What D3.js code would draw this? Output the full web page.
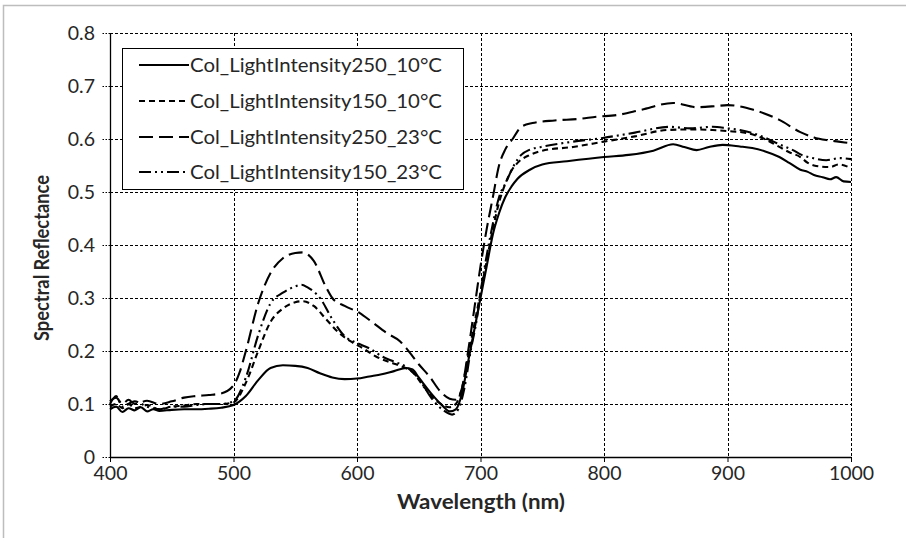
<!DOCTYPE html>
<html>
<head>
<meta charset="utf-8">
<script src="https://cdn.jsdelivr.net/npm/d3@7/dist/d3.min.js"></script>
<style>
  body { margin: 0; background: #fff; }
  svg { display: block; font-family: Lato, "Open Sans", sans-serif; }
</style>
</head>
<body>
<svg id="chart" width="906" height="538"></svg>
<script>
// series names and dash styles (legend order)
var seriesNames = ['Col_LightIntensity250_10°C', 'Col_LightIntensity150_10°C', 'Col_LightIntensity250_23°C', 'Col_LightIntensity150_23°C'];
var dashes = [null, '6,4', '14,6', '12,4,2,4,2,4'];

var xTicks = [400, 500, 600, 700, 800, 900, 1000];
var yTicks = [0, 0.1, 0.2, 0.3, 0.4, 0.5, 0.6, 0.7, 0.8];

// [wavelength nm, reflectance]
var li250_10 = [[400,0.09],[405,0.095],[410,0.085],[415,0.092],[420,0.088],[425,0.094],[430,0.086],[435,0.09],[440,0.087],[450,0.089],[460,0.09],[470,0.09],[480,0.091],[490,0.093],[500,0.098],[505,0.105],[510,0.115],[520,0.145],[530,0.168],[540,0.173],[550,0.172],[560,0.168],[570,0.158],[580,0.15],[590,0.147],[600,0.148],[610,0.152],[620,0.156],[630,0.162],[640,0.168],[645,0.165],[650,0.15],[660,0.12],[670,0.095],[675,0.086],[680,0.09],[685,0.12],[690,0.18],[695,0.24],[700,0.3],[705,0.36],[710,0.42],[715,0.46],[720,0.49],[725,0.51],[730,0.525],[740,0.542],[750,0.552],[770,0.558],[800,0.566],[820,0.57],[840,0.578],[856,0.59],[865,0.585],[875,0.579],[885,0.585],[896,0.589],[910,0.586],[920,0.583],[930,0.577],[942,0.566],[950,0.555],[959,0.542],[965,0.538],[970,0.532],[977,0.528],[983,0.524],[988,0.528],[994,0.52],[1000,0.519]];

var li150_10 = [[400,0.095],[405,0.1],[410,0.092],[415,0.1],[420,0.092],[430,0.098],[440,0.09],[450,0.095],[460,0.097],[470,0.1],[480,0.1],[490,0.1],[500,0.103],[510,0.14],[520,0.2],[530,0.255],[540,0.28],[550,0.292],[556,0.294],[565,0.285],[575,0.26],[585,0.235],[595,0.218],[605,0.205],[615,0.19],[625,0.18],[635,0.172],[645,0.16],[655,0.13],[665,0.105],[675,0.094],[680,0.1],[685,0.13],[690,0.19],[695,0.25],[700,0.31],[705,0.37],[710,0.43],[715,0.48],[720,0.515],[725,0.54],[730,0.555],[740,0.57],[750,0.578],[775,0.585],[800,0.595],[825,0.605],[851,0.617],[870,0.618],[888,0.617],[900,0.615],[916,0.611],[930,0.6],[942,0.585],[950,0.575],[959,0.566],[965,0.555],[970,0.55],[983,0.547],[990,0.552],[1000,0.545]];

var li250_23 = [[400,0.105],[405,0.112],[410,0.1],[415,0.108],[420,0.1],[430,0.106],[440,0.1],[450,0.105],[460,0.112],[470,0.115],[480,0.117],[490,0.12],[500,0.135],[505,0.16],[510,0.2],[520,0.29],[530,0.347],[540,0.375],[550,0.385],[556,0.386],[565,0.37],[575,0.32],[580,0.3],[590,0.285],[602,0.272],[612,0.255],[624,0.234],[635,0.218],[640,0.205],[650,0.175],[659,0.151],[667,0.125],[675,0.11],[680,0.108],[685,0.13],[690,0.2],[695,0.28],[700,0.36],[705,0.43],[710,0.49],[715,0.55],[720,0.58],[726,0.6],[733,0.623],[742,0.63],[760,0.635],[780,0.638],[794,0.642],[810,0.645],[830,0.655],[856,0.668],[875,0.66],[890,0.662],[900,0.664],[921,0.655],[942,0.636],[959,0.613],[970,0.603],[980,0.598],[990,0.595],[1000,0.592]];

var li150_23 = [[400,0.1],[405,0.115],[410,0.095],[420,0.105],[430,0.095],[440,0.09],[450,0.095],[460,0.095],[470,0.098],[480,0.1],[490,0.1],[500,0.105],[510,0.15],[520,0.23],[530,0.29],[540,0.31],[550,0.322],[555,0.325],[560,0.32],[570,0.3],[580,0.26],[590,0.228],[600,0.215],[610,0.205],[620,0.19],[630,0.18],[640,0.17],[650,0.148],[660,0.112],[670,0.088],[677,0.08],[682,0.09],[687,0.13],[692,0.2],[697,0.26],[700,0.31],[705,0.38],[710,0.44],[715,0.49],[721,0.52],[727,0.55],[733,0.57],[740,0.58],[749,0.585],[775,0.595],[799,0.602],[825,0.612],[853,0.623],[870,0.62],[888,0.623],[900,0.62],[910,0.617],[929,0.604],[940,0.592],[953,0.579],[960,0.57],[969,0.564],[980,0.56],[991,0.564],[1000,0.562]];

var allSeries = [li250_10, li150_10, li250_23, li150_23];

var svg = d3.select('#chart');
var plotLeft = 110, plotRight = 851, plotTop = 33, plotBottom = 457;

// outer chart frame
svg.append('rect')
    .attr('x', 3.5).attr('y', 5.5)
    .attr('width', 920).attr('height', 550)
    .attr('fill', 'none').attr('stroke', '#bdbdbd').attr('stroke-width', 1.5);

var x = d3.scaleLinear().domain([400, 1000]).range([plotLeft, plotRight]);
var y = d3.scaleLinear().domain([0, 0.8]).range([plotBottom, plotTop]);

// grid
var grid = svg.append('g');
grid.selectAll('.gy').data(yTicks.filter(function(d){ return d > 0; })).enter().append('line')
    .attr('x1', plotLeft).attr('x2', plotRight)
    .attr('y1', function(d){ return Math.round(y(d)) + 0.5; })
    .attr('y2', function(d){ return Math.round(y(d)) + 0.5; })
    .attr('stroke', '#000').attr('stroke-width', 1).attr('stroke-dasharray', '3,2');
grid.selectAll('.gx').data(xTicks.filter(function(d){ return d > 400; })).enter().append('line')
    .attr('y1', plotTop).attr('y2', plotBottom)
    .attr('x1', function(d){ return Math.round(x(d)) + 0.5; })
    .attr('x2', function(d){ return Math.round(x(d)) + 0.5; })
    .attr('stroke', '#000').attr('stroke-width', 1).attr('stroke-dasharray', '3,2');

// axes
var xAxis = svg.append('g')
    .attr('transform', 'translate(0,' + plotBottom + ')')
    .call(d3.axisBottom(x).tickValues(xTicks).tickSize(5).tickSizeOuter(0).tickPadding(4).tickFormat(d3.format('d')));
var yAxis = svg.append('g')
    .attr('transform', 'translate(' + plotLeft + ',0)')
    .call(d3.axisLeft(y).tickValues(yTicks).tickSize(9).tickSizeOuter(0).tickPadding(6).tickFormat(function(d){ return d === 0 ? '0' : d3.format('.1f')(d); }));

[xAxis, yAxis].forEach(function(a) {
    a.select('.domain').attr('stroke', '#000').attr('stroke-width', 1.3);
    a.selectAll('text').attr('font-size', 19.5).attr('fill', '#262626')
        .attr('font-family', 'Lato, "Open Sans", sans-serif');
});
xAxis.selectAll('.tick line').attr('stroke', '#000');
yAxis.selectAll('.tick line').attr('stroke', '#000').attr('stroke-dasharray', '1.5,1.5');

// lines
var line = d3.line()
    .x(function(d){ return x(d[0]); })
    .y(function(d){ return y(d[1]); })
    .curve(d3.curveMonotoneX);

svg.append('g').selectAll('path').data(allSeries).enter().append('path')
    .attr('d', line)
    .attr('fill', 'none')
    .attr('stroke', '#000')
    .attr('stroke-width', 2.1)
    .attr('stroke-dasharray', function(d, i){ return dashes[i]; });

// axis titles
svg.append('text')
    .attr('x', 481).attr('y', 509)
    .attr('text-anchor', 'middle')
    .attr('font-size', 20).attr('font-weight', 'bold').attr('fill', '#262626')
    .attr('textLength', 168).attr('lengthAdjust', 'spacingAndGlyphs')
    .text('Wavelength (nm)');
svg.append('text')
    .attr('transform', 'translate(49,258) rotate(-90)')
    .attr('text-anchor', 'middle')
    .attr('font-size', 20).attr('font-weight', 'bold').attr('fill', '#262626')
    .attr('textLength', 166).attr('lengthAdjust', 'spacingAndGlyphs')
    .text('Spectral Reflectance');

// legend
var legend = svg.append('g');
legend.append('rect')
    .attr('x', 122.5).attr('y', 48.5).attr('width', 341).attr('height', 141)
    .attr('fill', '#fff').attr('stroke', '#000').attr('stroke-width', 1);
var rowY = [65, 101, 137, 172];
seriesNames.forEach(function(name, i) {
    legend.append('line')
        .attr('x1', 139).attr('x2', 189)
        .attr('y1', rowY[i]).attr('y2', rowY[i])
        .attr('stroke', '#000').attr('stroke-width', 2.1)
        .attr('stroke-dasharray', dashes[i]);
    legend.append('text')
        .attr('x', 190).attr('y', rowY[i])
        .attr('dy', '0.35em')
        .attr('font-size', 19.5).attr('fill', '#262626')
        .attr('textLength', 252).attr('lengthAdjust', 'spacingAndGlyphs')
        .text(name);
});
</script>
</body>
</html>
